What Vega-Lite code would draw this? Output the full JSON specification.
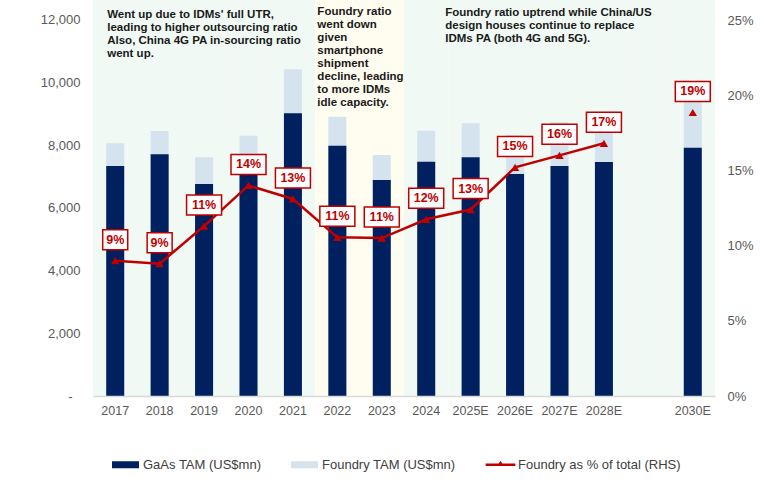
{
  "$schema": "https://vega.github.io/schema/vega-lite/v6.json",
  "width": 622,
  "height": 396,
  "autosize": {"type": "none"},
  "padding": {"left": 93, "top": 0, "right": 45, "bottom": 96},
  "background": "white",
  "config": {
    "view": {"stroke": null},
    "font": "Liberation Sans",
    "axis": {"grid": false, "ticks": false, "labelFont": "Liberation Sans", "labelColor": "#595959"}
  },
  "datasets": {
    "tam": [
      {"year": "2017", "gaas": 7340, "total": 8065, "pct": 9.0, "label": "9%"},
      {"year": "2018", "gaas": 7713, "total": 8457, "pct": 8.8, "label": "9%"},
      {"year": "2019", "gaas": 6766, "total": 7617, "pct": 11.3, "label": "11%"},
      {"year": "2020", "gaas": 7145, "total": 8308, "pct": 14.0, "label": "14%"},
      {"year": "2021", "gaas": 9021, "total": 10426, "pct": 13.1, "label": "13%"},
      {"year": "2022", "gaas": 7989, "total": 8915, "pct": 10.55, "label": "11%"},
      {"year": "2023", "gaas": 6894, "total": 7692, "pct": 10.5, "label": "11%"},
      {"year": "2024", "gaas": 7478, "total": 8468, "pct": 11.75, "label": "12%"},
      {"year": "2025E", "gaas": 7617, "total": 8703, "pct": 12.4, "label": "13%"},
      {"year": "2026E", "gaas": 7085, "total": 8330, "pct": 15.2, "label": "15%"},
      {"year": "2027E", "gaas": 7340, "total": 8745, "pct": 16.0, "label": "16%"},
      {"year": "2028E", "gaas": 7468, "total": 9000, "pct": 16.8, "label": "17%"},
      {"year": "2030E", "gaas": 7925, "total": 9780, "pct": 18.85, "label": "19%"}
    ],
    "bands": [
      {"year": "2017", "region": "green"},
      {"year": "2018", "region": "green"},
      {"year": "2019", "region": "green"},
      {"year": "2020", "region": "green"},
      {"year": "2021", "region": "green"},
      {"year": "2022", "region": "cream"},
      {"year": "2023", "region": "cream"},
      {"year": "2024", "region": "green"},
      {"year": "2025E", "region": "green"},
      {"year": "2026E", "region": "green"},
      {"year": "2027E", "region": "green"},
      {"year": "2028E", "region": "green"},
      {"year": "2029", "region": "green"},
      {"year": "2030E", "region": "green"}
    ],
    "notes": [
      {"id": 1, "text": "Went up due to IDMs' full UTR,\nleading to higher outsourcing ratio\nAlso, China 4G PA in-sourcing ratio\nwent up."},
      {"id": 2, "text": "Foundry ratio\nwent down\ngiven\nsmartphone\nshipment\ndecline, leading\nto more IDMs\nidle capacity."},
      {"id": 3, "text": "Foundry ratio uptrend while China/US\ndesign houses continue to replace\nIDMs PA (both 4G and 5G)."}
    ]
  },
  "layer": [
    {
      "layer": [
        {
          "data": {"name": "bands"},
          "mark": {"type": "rect"},
          "encoding": {
            "x": {
              "field": "year", "type": "nominal",
              "scale": {"domain": ["2017", "2018", "2019", "2020", "2021", "2022", "2023", "2024", "2025E", "2026E", "2027E", "2028E", "2029", "2030E"], "paddingInner": 0, "paddingOuter": 0},
              "axis": {"title": null, "labelAngle": 0, "labelFontSize": 12.5, "labelPadding": 8, "domainColor": "#d9d9d9", "domainWidth": 1.5, "labelExpr": "datum.value === '2029' ? '' : datum.value"}
            },
            "fill": {"condition": {"test": "datum.region === 'cream'", "value": "#fffcf0"}, "value": "#f0f9f4"}
          }
        },
        {
          "data": {"name": "tam"},
          "mark": {"type": "bar", "size": 18},
          "encoding": {
            "x": {"field": "year", "type": "nominal"},
            "y": {
              "field": "total", "type": "quantitative",
              "scale": {"domain": [0, 12638], "nice": false},
              "axis": {
                "title": null, "domain": false, "values": [0, 2000, 4000, 6000, 8000, 10000, 12000], "labelFontSize": 13,
                "labelPadding": {"condition": {"test": "datum.value === 0", "value": 21}, "value": 13},
                "labelExpr": "datum.value === 0 ? '-' : format(datum.value, ',')"
              }
            },
            "color": {
              "datum": "Foundry TAM (US$mn)", "type": "nominal",
              "scale": {"domain": ["GaAs TAM (US$mn)", "Foundry TAM (US$mn)", "Foundry as % of total (RHS)"], "range": ["#002060", "#d5e3ee", "#c00000"]},
              "legend": {
                "orient": "none", "legendX": 19, "legendY": 451, "direction": "horizontal", "title": null,
                "labelFontSize": 13, "labelColor": "#404040", "labelFont": "Liberation Sans", "labelOffset": 4, "labelLimit": 400,
                "symbolSize": 729, "columnPadding": 29, "symbolStrokeWidth": 0, "symbolOpacity": 1,
                "encoding": {
                  "symbols": {
                    "shape": {
                      "condition": {"test": "datum.value === 'Foundry as % of total (RHS)'", "value": "M-1.1,-0.09H1.1V0.09H-1.1Z M-0.25,0.09L0,-0.3L0.25,0.09Z"},
                      "value": "M-1,-0.26H1V0.26H-1Z"
                    }
                  }
                }
              }
            }
          }
        },
        {
          "data": {"name": "tam"},
          "mark": {"type": "bar", "size": 18},
          "encoding": {
            "x": {"field": "year", "type": "nominal"},
            "y": {"field": "gaas", "type": "quantitative"},
            "color": {"datum": "GaAs TAM (US$mn)", "type": "nominal"}
          }
        },
        {
          "data": {"name": "notes"},
          "transform": [{"filter": "datum.id === 1"}],
          "mark": {"type": "text", "align": "left", "baseline": "top", "xOffset": -8, "lineBreak": "\n", "fontSize": 11.5, "fontWeight": "bold", "lineHeight": 13, "color": "#1a1a1a"},
          "encoding": {
            "x": {"datum": "2017", "type": "nominal"},
            "y": {"datum": 12351, "type": "quantitative"},
            "text": {"field": "text"}
          }
        },
        {
          "data": {"name": "notes"},
          "transform": [{"filter": "datum.id === 2"}],
          "mark": {"type": "text", "align": "left", "baseline": "top", "xOffset": -20, "lineBreak": "\n", "fontSize": 11.5, "fontWeight": "bold", "lineHeight": 13, "color": "#1a1a1a"},
          "encoding": {
            "x": {"datum": "2022", "type": "nominal"},
            "y": {"datum": 12431, "type": "quantitative"},
            "text": {"field": "text"}
          }
        },
        {
          "data": {"name": "notes"},
          "transform": [{"filter": "datum.id === 3"}],
          "mark": {"type": "text", "align": "left", "baseline": "top", "xOffset": 19, "lineBreak": "\n", "fontSize": 11.5, "fontWeight": "bold", "lineHeight": 13, "color": "#1a1a1a"},
          "encoding": {
            "x": {"datum": "2024", "type": "nominal"},
            "y": {"datum": 12415, "type": "quantitative"},
            "text": {"field": "text"}
          }
        }
      ]
    },
    {
      "data": {"name": "tam"},
      "layer": [
        {
          "transform": [{"filter": "datum.year !== '2030E'"}],
          "mark": {"type": "line", "strokeWidth": 2.5},
          "encoding": {
            "x": {"field": "year", "type": "nominal"},
            "y": {
              "field": "pct", "type": "quantitative",
              "scale": {"domain": [0, 26.33], "nice": false},
              "axis": {"orient": "right", "title": null, "domain": false, "values": [0, 5, 10, 15, 20, 25], "labelFontSize": 13, "labelPadding": 12, "labelExpr": "datum.value + '%'"}
            },
            "color": {"datum": "Foundry as % of total (RHS)", "type": "nominal"}
          }
        },
        {
          "mark": {"type": "point", "shape": "triangle-up", "filled": true, "size": 70, "opacity": 1},
          "encoding": {
            "x": {"field": "year", "type": "nominal"},
            "y": {"field": "pct", "type": "quantitative"},
            "color": {"datum": "Foundry as % of total (RHS)", "type": "nominal"}
          }
        },
        {
          "mark": {"type": "point", "filled": true, "fill": "white", "stroke": "#c00000", "strokeWidth": 1.5, "opacity": 1, "size": 1225, "yOffset": -21},
          "encoding": {
            "x": {"field": "year", "type": "nominal"},
            "y": {"field": "pct", "type": "quantitative"},
            "shape": {"condition": {"test": "length(datum.label) < 3", "value": "M-0.714,-0.571H0.714V0.571H-0.714Z"}, "value": "M-1,-0.571H1V0.571H-1Z"}
          }
        },
        {
          "mark": {"type": "text", "yOffset": -21, "fontSize": 12.5, "fontWeight": "bold", "color": "#c00000", "baseline": "middle", "align": "center"},
          "encoding": {
            "x": {"field": "year", "type": "nominal"},
            "y": {"field": "pct", "type": "quantitative"},
            "text": {"field": "label"}
          }
        }
      ]
    }
  ],
  "resolve": {"scale": {"y": "independent"}}
}
